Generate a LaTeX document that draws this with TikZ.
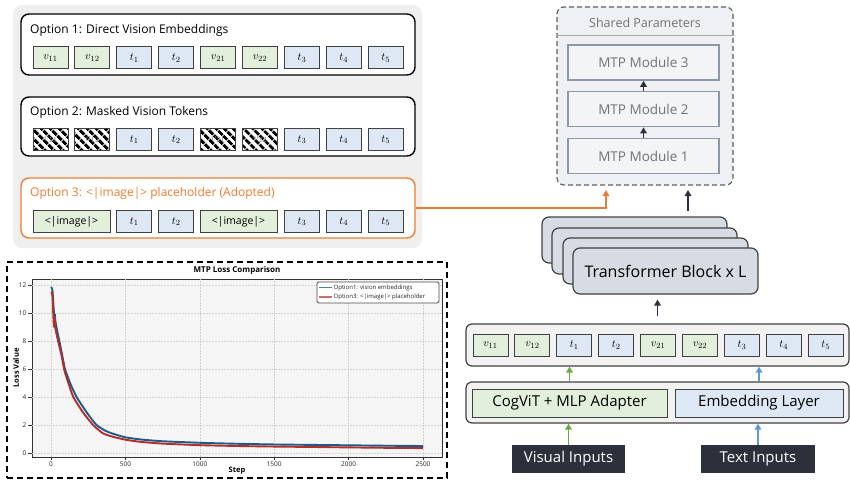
\documentclass[tikz,border=0pt]{standalone}
\usepackage{fontspec}
\setmainfont{Open Sans}
\usetikzlibrary{arrows.meta,patterns.meta,positioning}

\definecolor{visgreen}{HTML}{E2EFDA}
\definecolor{txtblue}{HTML}{DEE8F4}
\definecolor{adopt}{HTML}{EE7D31}
\definecolor{panelgray}{HTML}{EFEFEF}
\definecolor{sharedfill}{HTML}{EFF0F3}
\definecolor{modfill}{HTML}{F3F4F6}
\definecolor{modline}{HTML}{8C98A6}
\definecolor{blockfill}{HTML}{D6DBE4}
\definecolor{inkdark}{HTML}{2B303A}
\definecolor{arrgreen}{HTML}{6AAA3E}
\definecolor{arrblue}{HTML}{5B9BD5}
\definecolor{lossblue}{HTML}{1F5A85}
\definecolor{lossred}{HTML}{B22E2A}

\tikzset{
  tok/.style={draw=black!75, line width=1pt, minimum width=35pt, minimum height=22pt,
    inner sep=0pt, font=\fontsize{11}{12}\selectfont},
  vis/.style={tok, fill=visgreen},
  txt/.style={tok, fill=txtblue},
  hid/.style={tok, text=gray, preaction={fill=white},
    pattern={Lines[angle=-45,distance=6.5pt,line width=3.2pt]}},
  optbox/.style={draw=black, line width=1.4pt, rounded corners=8pt, fill=white,
    minimum width=394pt},
  opttitle/.style={anchor=west, inner sep=0pt, font=\fontsize{12}{14}\selectfont},
  rowpanel/.style={draw=black!75, line width=1.2pt, rounded corners=6pt, fill=gray!10,
    minimum width=383pt},
  block/.style={draw=black!75, line width=1.2pt, fill=blockfill, rounded corners=7pt,
    minimum width=185pt, minimum height=46pt},
  module/.style={draw=modline, line width=1.6pt, fill=modfill, text=gray!90!black,
    minimum width=151pt, minimum height=35pt, font=\fontsize{13.5}{16}\selectfont},
  inbox/.style={fill=inkdark, text=white, minimum height=28pt, inner sep=0pt,
    font=\fontsize{15}{18}\selectfont},
  arr/.style={-{Triangle[length=6pt,width=6.5pt]}, line width=1.8pt, draw=inkdark},
  grid/.style={gray!35, line width=0.5pt, dash pattern=on 2pt off 1pt},
  ticklbl/.style={inner sep=1.5pt, text=gray!30!black, font=\fontsize{6.5}{7}\selectfont},
  axlbl/.style={font=\bfseries\fontsize{7.5}{8}\selectfont},
  losscurve/.style={line width=1.9pt, line join=round},
}

\begin{document}
\begin{tikzpicture}[x=1pt, y=-1pt]
\useasboundingbox (0,0) rectangle (850,481);

% token variants
\node[fill=panelgray, rounded corners=9pt, minimum width=409pt, minimum height=243pt] (optpanel) at (217.5,126.5) {};

\node[optbox, minimum height=61pt] (o1box) at (218,44.5) {};
\node[opttitle] (o1title) at (30,30) {Option 1: Direct Vision Embeddings};
\foreach \lbl/\kind [count=\i] in {v_{11}/vis, v_{12}/vis, t_1/txt, t_2/txt, v_{21}/vis, v_{22}/vis, t_3/txt, t_4/txt, t_5/txt}
  \node[\kind] (o1t\i) at ({8.6+41.9*\i},58) {$\lbl$};

\node[optbox, minimum height=59pt] (o2box) at (218,126.5) {};
\node[opttitle] (o2title) at (30,112) {Option 2: Masked Vision Tokens};
\foreach \lbl/\kind [count=\i] in {v_{11}/hid, v_{12}/hid, t_1/txt, t_2/txt, v_{21}/hid, v_{22}/hid, t_3/txt, t_4/txt, t_5/txt}
  \node[\kind] (o2t\i) at ({8.6+41.9*\i},139.5) {$\lbl$};

\node[optbox, draw=adopt, minimum height=60pt] (o3box) at (218,208) {};
\node[opttitle, text=adopt] (o3title) at (30,193) {Option 3: <|image|> placeholder (Adopted)};
\node[vis, minimum width=77pt, font=\fontsize{10.5}{12}\selectfont] (o3img1) at (71.5,221.5) {<|image|>};
\node[vis, minimum width=77pt, font=\fontsize{10.5}{12}\selectfont] (o3img2) at (238.5,221.5) {<|image|>};
\foreach \lbl/\i in {t_1/3, t_2/4, t_3/7, t_4/8, t_5/9}
  \node[txt] (o3t\i) at ({8.6+41.9*\i},221.5) {$\lbl$};

% shared MTP modules
\node[draw=gray!75!black, line width=1.2pt, dash pattern=on 5pt off 3pt, rounded corners=7pt,
  fill=sharedfill, minimum width=176pt, minimum height=178pt] (shared) at (645,96) {};
\node[text=gray!90!black, font=\fontsize{12.5}{15}\selectfont] (sharedtitle) at (645,23) {Shared Parameters};
\coordinate (sharedrule) at (645,35);
\draw[gray!70, line width=0.8pt] (shared.west |- sharedrule) -- (shared.east |- sharedrule);
\node[module] (m3) at (643.5,62.5) {MTP Module 3};
\node[module] (m2) at (643.5,109) {MTP Module 2};
\node[module] (m1) at (643.5,156) {MTP Module 1};
\draw[arr, line width=1.3pt] (m1) -- (m2);
\draw[arr, line width=1.3pt] (m2) -- (m3);

% transformer stack
\foreach \k/\xx/\yy in {1/634.5/240, 2/644.5/251, 3/655.5/261}
  \node[block] (tb\k) at (\xx,\yy) {};
\node[block, font=\fontsize{16}{19}\selectfont] (tb4) at (665.5,271) {Transformer Block x L};

\coordinate (tbout) at (688,211);
\coordinate (mtpright) at (688,190);
\coordinate (mtpleft) at (606,190);
\draw[arr] (tbout) -- (mtpright);
\draw[arr, draw=adopt, line width=2pt] (o3box.east) -| (mtpleft);

% input sequence
\node[rowpanel, minimum height=42pt] (tokrow) at (657.5,345) {};
\foreach \lbl/\kind [count=\i] in {v_{11}/vis, v_{12}/vis, t_1/txt, t_2/txt, v_{21}/vis, v_{22}/vis, t_3/txt, t_4/txt, t_5/txt}
  \node[\kind] (s\i) at ({448.6+41.9*\i},345) {$\lbl$};
\draw[arr, shorten <=7pt, shorten >=5pt] (tokrow.north) -- (tokrow.north |- tb4.south);

\node[rowpanel, minimum height=41pt] (enc) at (657.5,402.5) {};
\node[vis, minimum width=195pt, minimum height=28pt, font=\fontsize{15}{18}\selectfont] (cog) at (569.5,403) {CogViT + MLP Adapter};
\node[txt, minimum width=168pt, minimum height=28pt, font=\fontsize{15}{18}\selectfont] (emb) at (759,403) {Embedding Layer};

\node[inbox, minimum width=113pt] (visin) at (568.5,459) {Visual Inputs};
\node[inbox, minimum width=114pt] (txtin) at (758,459) {Text Inputs};

\draw[arr, draw=arrgreen] (cog.north |- enc.north) -- (cog.north |- tokrow.south);
\draw[arr, draw=arrblue] (emb.north |- enc.north) -- (emb.north |- tokrow.south);
\draw[arr, draw=arrgreen] (visin.north) -- (visin.north |- enc.south);
\draw[arr, draw=arrblue] (txtin.north) -- (txtin.north |- enc.south);

% loss plot
\node[draw=black, line width=1.5pt, dash pattern=on 6pt off 4pt, minimum width=440pt, minimum height=216pt] (plotframe) at (227,370) {};
\node[draw=gray!40!black, line width=0.9pt, fill=gray!8, minimum width=410pt, minimum height=178pt] (axes) at (237,368) {};
\node[font=\bfseries\fontsize{8}{9}\selectfont] (ptitle) at (237,270) {MTP Loss Comparison};
\node[axlbl] (xlbl) at (237,471) {Step};
\node[axlbl, rotate=90] (ylbl) at (16,368) {Loss Value};

\begin{scope}[shift={(51,453)}, x=0.1488pt, y=14pt]
\foreach \s in {0,500,...,2500} {
  \draw[grid] (\s,-0.29) -- (\s,12.43);
  \draw[gray!40!black, line width=0.6pt] (\s,-0.29) -- (\s,-0.5);
  \node[ticklbl, below] at (\s,-0.5) {\s};
}
\foreach \v in {0,2,...,12} {
  \draw[grid] (-127.7,\v) -- (2627.7,\v);
  \draw[gray!40!black, line width=0.6pt] (-127.7,\v) -- (-155,\v);
  \node[ticklbl, left] at (-155,\v) {\v};
}
\draw[lossblue, losscurve] plot[smooth, tension=0.35] coordinates {
  (0,11.85) (5,11.8) (10,11.6) (14,11.0) (18,10.3) (22,9.8) (26,9.9) (30,9.4)
  (40,8.8) (56,8.0) (75,7.0) (94,6.0) (130,4.95) (172,4.0) (240,2.9) (306,2.0)
  (373,1.55) (440,1.3) (500,1.12) (600,0.97) (750,0.84) (1000,0.73)
  (1250,0.66) (1500,0.61) (1750,0.58) (2000,0.55) (2250,0.52) (2500,0.5)};
\draw[lossred, losscurve] plot[smooth, tension=0.35] coordinates {
  (0,11.5) (5,11.45) (10,11.2) (14,10.2) (18,9.3) (22,9.0) (25,9.7) (28,9.0)
  (35,8.6) (52,7.8) (72,6.9) (90,5.9) (120,4.9) (150,4.0) (215,2.9) (283,2.0)
  (350,1.4) (420,1.15) (500,0.95) (600,0.8) (750,0.67) (1000,0.56)
  (1250,0.5) (1500,0.46) (1750,0.43) (2000,0.4) (2250,0.37) (2500,0.35)};
\end{scope}

\node[draw=gray!60!black, line width=0.8pt, fill=white, rounded corners=1.5pt,
  minimum width=122pt, minimum height=21pt] (legend) at (378,292.5) {};
\coordinate (leg1a) at (319,287.5);
\coordinate (leg1b) at (332,287.5);
\coordinate (leg2a) at (319,297);
\coordinate (leg2b) at (332,297);
\draw[lossblue!75, line width=1.2pt] (leg1a) -- (leg1b);
\draw[lossred!70, line width=1.2pt] (leg2a) -- (leg2b);
\node[ticklbl, anchor=west, font=\fontsize{6}{7}\selectfont] (leg1) at (leg1b) {Option1: vision embeddings};
\node[ticklbl, anchor=west, font=\fontsize{6}{7}\selectfont] (leg2) at (leg2b) {Option3: <|image|> placeholder};
\end{tikzpicture}
\end{document}
